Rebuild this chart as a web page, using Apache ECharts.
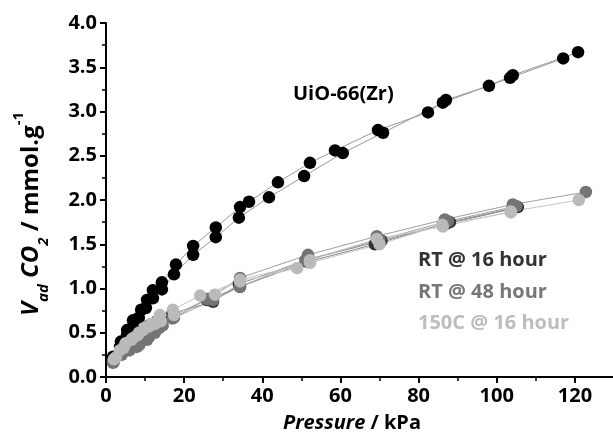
<!DOCTYPE html>
<html><head><meta charset="utf-8">
<script src="https://cdn.jsdelivr.net/npm/echarts@6/dist/echarts.min.js"></script>
<style>html,body{margin:0;padding:0;background:#fff}#c{width:613px;height:436px}</style>
</head><body><div id="c"></div>
<script>
// Pressure (kPa), uptake (mmol/g)
const uioAds = [[1.8,0.23],[3.8,0.40],[5.4,0.53],[6.9,0.64],[9.0,0.76],[10.5,0.87],[12.0,0.98],[14.3,1.07],[17.9,1.27],[22.3,1.48],[28.1,1.69],[34.3,1.92],[36.6,1.98],[44.0,2.20],[52.2,2.42],[58.6,2.56],[69.6,2.79],[82.4,2.99],[87.0,3.13],[98.0,3.29],[104.1,3.41],[120.8,3.67]];
const uioDes = [[1.8,0.17],[3.6,0.34],[5.4,0.48],[6.9,0.57],[8.4,0.67],[10.2,0.78],[12.0,0.89],[14.3,0.99],[17.4,1.16],[22.3,1.38],[28.1,1.58],[34.0,1.80],[41.7,2.03],[50.7,2.27],[60.6,2.53],[70.9,2.76],[86.2,3.10],[103.4,3.38],[117.0,3.60]];
const rt16A = [[1.8,0.18],[4.0,0.30],[6.0,0.40],[8.0,0.48],[10.0,0.55],[12.0,0.60],[14.3,0.65],[17.4,0.70],[25.8,0.87],[34.3,1.02],[51.5,1.30],[68.8,1.50],[88.0,1.75],[105.4,1.92]];
const rt16B = [[2.0,0.20],[4.2,0.33],[6.5,0.43],[8.5,0.51],[10.8,0.58],[13.0,0.63],[17.0,0.72],[27.4,0.85],[34.0,1.05],[52.0,1.33],[70.5,1.54],[87.0,1.73],[104.0,1.90]];
const rt48A = [[1.8,0.16],[3.6,0.27],[5.5,0.31],[7.9,0.34],[10.5,0.42],[12.5,0.50],[14.5,0.58],[17.4,0.67],[25.8,0.88],[34.3,1.12],[51.7,1.38],[69.3,1.59],[86.7,1.78],[104.1,1.95],[122.8,2.09]];
const rt48B = [[2.0,0.17],[4.0,0.25],[6.0,0.30],[8.5,0.36],[11.0,0.45],[13.5,0.55],[17.0,0.66],[27.4,0.87],[34.3,1.02],[51.0,1.32],[70.0,1.55],[87.5,1.76],[105.0,1.93]];
const c150A = [[2.0,0.20],[3.5,0.30],[5.0,0.38],[6.9,0.44],[8.5,0.50],[10.0,0.56],[11.5,0.60],[13.3,0.64],[13.8,0.70],[17.1,0.76],[24.1,0.92],[34.3,1.08],[48.9,1.23],[52.2,1.32],[69.3,1.56],[86.2,1.70],[103.6,1.87],[121.0,2.00]];
const c150B = [[2.5,0.22],[4.5,0.33],[6.5,0.42],[8.0,0.47],[9.5,0.53],[11.0,0.57],[12.5,0.60],[14.0,0.63],[17.4,0.70],[27.9,0.93],[34.3,1.10],[52.2,1.29],[70.0,1.50],[86.0,1.72],[103.6,1.86]];
const sampleLabel = 'UiO-66(Zr)';
const legendNames = ['RT @ 16 hour','RT @ 48 hour','150C @ 16 hour'];
const xTitle = 'Pressure';
const xUnit = ' / kPa';

const FONT = '"Open Sans", sans-serif';
function s(data, color, lineColor) {
  return {type:'line', data, symbol:'circle', symbolSize:12.5, showSymbol:true,
    itemStyle:{color}, lineStyle:{color:lineColor,width:1}, animation:false, silent:true};
}
const chart = echarts.init(document.getElementById('c'), null, {renderer:'canvas'});
chart.setOption({
  backgroundColor:'#fff',
  grid:{left:106, top:23, width:508, height:354, containLabel:false, outerBoundsMode:'none'},
  xAxis:{type:'value', min:0, max:130, interval:20,
    name:'{i|'+xTitle+'}{n|'+xUnit+'}', nameLocation:'middle', nameGap:36,
    nameTextStyle:{padding:[0,16,0,0],rich:{i:{fontFamily:FONT,fontSize:20,fontWeight:'bold',fontStyle:'italic',color:'#000'},
                          n:{fontFamily:FONT,fontSize:20,fontWeight:'bold',color:'#000'}}},
    axisLine:{lineStyle:{color:'#000',width:2}},
    axisTick:{inside:false,length:6,lineStyle:{color:'#000',width:2}},
    minorTick:{show:true,splitNumber:2,length:4,lineStyle:{color:'#000',width:1.5}},
    axisLabel:{fontFamily:FONT,fontSize:20,fontWeight:'bold',color:'#000',margin:9,showMaxLabel:false},
    splitLine:{show:false}},
  yAxis:{type:'value', min:0, max:4, interval:0.5,
    name:'{vi|V}{sub|ad}{vi| CO}{sub|2}{n| / mmol.g}{sup|-1}', nameLocation:'middle', nameGap:55, nameRotate:90,
    nameTextStyle:{padding:[0,28,0,0],rich:{
      vi:{fontFamily:FONT,fontSize:24,fontWeight:'bold',fontStyle:'italic',color:'#000',lineHeight:40,verticalAlign:'middle'},
      n:{fontFamily:FONT,fontSize:24,fontWeight:'bold',color:'#000',lineHeight:40,verticalAlign:'middle'},
      sub:{fontFamily:FONT,fontSize:15,fontWeight:'bold',fontStyle:'italic',color:'#000',lineHeight:40,verticalAlign:'bottom'},
      sup:{fontFamily:FONT,fontSize:15,fontWeight:'bold',color:'#000',lineHeight:40,verticalAlign:'top'}}},
    axisLine:{lineStyle:{color:'#000',width:2}},
    axisTick:{inside:false,length:6,lineStyle:{color:'#000',width:2}},
    minorTick:{show:true,splitNumber:2,length:4,lineStyle:{color:'#000',width:1.5}},
    axisLabel:{fontFamily:FONT,fontSize:20,fontWeight:'bold',color:'#000',margin:9,
      formatter:v=>v.toFixed(1)},
    splitLine:{show:false}},
  series:[
    s(uioAds,'#000','#9a9a9a'), s(uioDes,'#000','#9a9a9a'),
    s(rt16A,'#333','#8a8a8a'), s(rt16B,'#333','#8a8a8a'),
    s(rt48A,'#747474','#a0a0a0'), s(rt48B,'#747474','#a0a0a0'),
    s(c150A,'#bababa','#c6c6c6'), s(c150B,'#bababa','#c6c6c6')
  ],
  graphic:[
    {type:'text',left:293,top:84,style:{text:sampleLabel,font:'bold 20px "Open Sans", sans-serif',fill:'#000'}},
    {type:'text',left:418,top:250,style:{text:legendNames[0],font:'bold 20px "Open Sans", sans-serif',fill:'#333'}},
    {type:'text',left:418,top:282,style:{text:legendNames[1],font:'bold 20px "Open Sans", sans-serif',fill:'#777'}},
    {type:'text',left:418,top:313,style:{text:legendNames[2],font:'bold 20px "Open Sans", sans-serif',fill:'#bdbdbd'}}
  ]
});
</script></body></html>
